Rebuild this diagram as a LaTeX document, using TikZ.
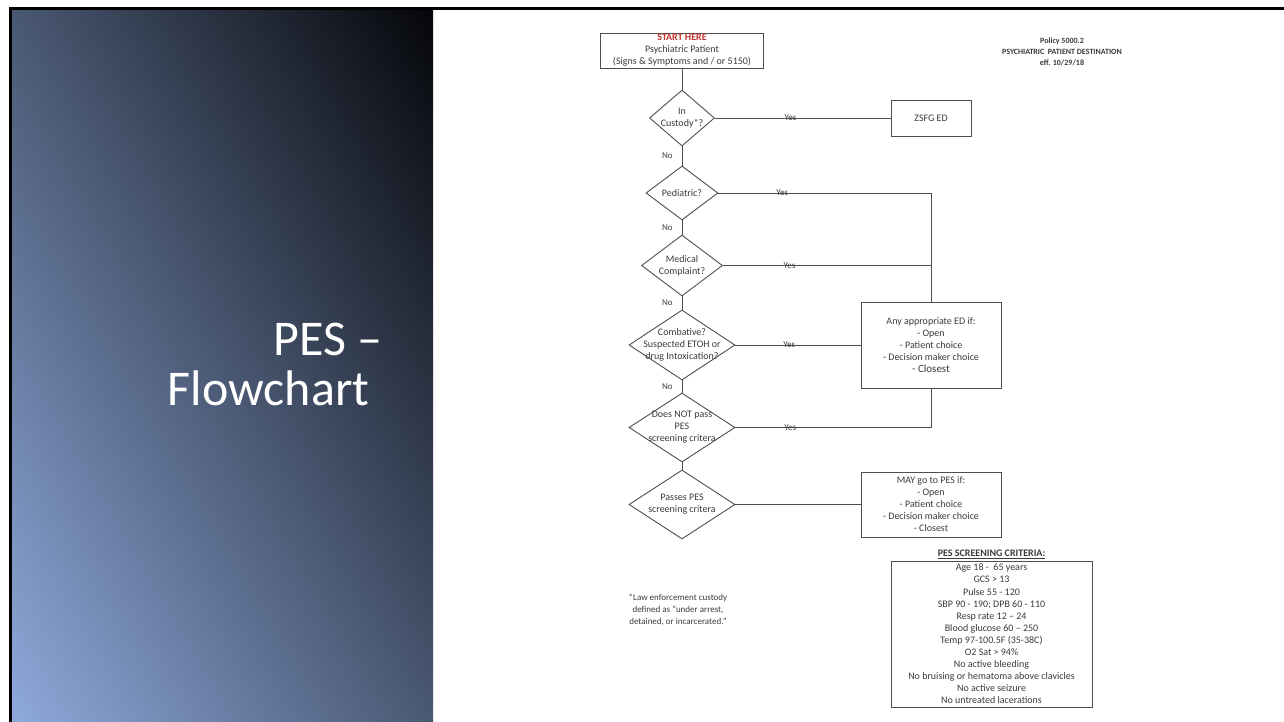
\documentclass[tikz,border=0pt]{standalone}
\usepackage{fontspec}
\setmainfont{Carlito}
\usetikzlibrary{shapes.geometric,positioning}
\definecolor{linegray}{HTML}{4E4E4E}
\definecolor{textgray}{HTML}{3A3A3A}
\definecolor{startred}{HTML}{C0312F}
\definecolor{panellight}{HTML}{8EAADC}
\definecolor{panelmid}{HTML}{4E5C7B}
\definecolor{paneldark}{HTML}{050609}

\begin{document}
\begin{tikzpicture}[x=1pt,y=-1pt,line width=0.9pt,draw=linegray,
  box node/.style={draw=linegray,rectangle,inner sep=0pt,text=textgray,align=center,font=\fontsize{10}{12}\selectfont},
  decision node/.style={draw=linegray,diamond,inner sep=0pt},
  decision text/.style={text=textgray,align=center,inner sep=0pt,font=\fontsize{10}{12}\selectfont},
  yes label/.style={text=textgray,inner sep=0pt,font=\fontsize{9}{10}\selectfont},
  no label/.style={text=textgray,left,inner sep=0pt,xshift=-9pt,font=\fontsize{9}{10}\selectfont},
  small text/.style={text=textgray,align=center,inner sep=0pt}]

  \useasboundingbox (0,0) rectangle (1284,722);

  % left title panel
  \begin{scope}
    \clip (10,8) rectangle (433,722);
    \begin{scope}[transform canvas={rotate around={30.6:(221.5,365)}}]
      \shade[left color=panellight,middle color=panelmid,right color=paneldark] (-142.5,-235) rectangle (585.5,965);
    \end{scope}
  \end{scope}
  \draw[black,line width=3pt] (10.5,722) -- (10.5,8.5) -- (1284,8.5);
  \node[anchor=base east,text=white,font=\fontsize{50}{50}\selectfont] (title1) at (386,355) {PES –};
  \node[anchor=base east,text=white,font=\fontsize{50}{50}\selectfont] (title2) at (373,405) {Flowchart};

  % header
  \node[small text,font=\fontsize{8}{11}\selectfont\bfseries] (policy) at (1062,51.5) {Policy 5000.2\\PSYCHIATRIC\ \ PATIENT DESTINATION\\eff. 10/29/18};

  % boxes
  \node[box node,minimum width=163pt,minimum height=35pt] (start) at (682,50.5) {\textcolor{startred}{\textbf{START HERE}}\\Psychiatric Patient\\(Signs \& Symptoms and / or 5150)};
  \node[box node,minimum width=80pt,minimum height=36pt] (zsfg) at (931,118) {ZSFG ED};
  \node[box node,minimum width=140pt,minimum height=86pt] (edbox) at (931,345) {Any appropriate ED if:\\- Open\\- Patient choice\\- Decision maker choice\\{\fontsize{11}{12}\selectfont - Closest}};
  \node[box node,minimum width=140pt,minimum height=65pt] (maybox) at (931,504.5) {MAY go to PES if:\\- Open\\- Patient choice\\- Decision maker choice\\- Closest};
  \node[box node,minimum width=201pt,minimum height=146pt,font=\fontsize{10}{12.1}\selectfont] (criteria) at (991.5,634) {Age 18 -\ \ 65 years\\GCS > 13\\Pulse 55 - 120\\SBP 90 - 190; DPB 60 - 110\\Resp rate 12 – 24\\Blood glucose 60 – 250\\Temp 97-100.5F (35-38C)\\O2 Sat > 94\%\\No active bleeding\\No bruising or hematoma above clavicles\\No active seizure\\No untreated lacerations};
  \node[small text,above=1.5pt of criteria,font=\fontsize{10}{12}\selectfont\bfseries] (crittitle) {\underline{PES SCREENING CRITERIA:}};

  % decisions
  \node[decision node,minimum width=65pt,minimum height=56pt,label={[decision text]center:In\\Custody*?}] (custody) at (682,118) {};
  \node[decision node,minimum width=72pt,minimum height=54pt,label={[decision text]center:Pediatric?}] (pediatric) at (682,193) {};
  \node[decision node,minimum width=81pt,minimum height=61pt,label={[decision text]center:Medical\\Complaint?}] (medical) at (682,265.5) {};
  \node[decision node,minimum width=106pt,minimum height=70pt,label={[decision text]center:Combative?\\Suspected ETOH or\\drug Intoxication?}] (combative) at (682,345) {};
  \node[decision node,minimum width=106pt,minimum height=69pt,label={[decision text]center:Does NOT pass\\PES\\screening critera}] (notpass) at (682,427.5) {};
  \node[decision node,minimum width=106pt,minimum height=69pt,label={[decision text]center:Passes PES\\screening critera}] (passes) at (682,504.5) {};

  % footnote
  \node[small text,font=\fontsize{9}{12}\selectfont] (footnote) at (678,610) {*Law enforcement custody\\defined as “under arrest,\\detained, or incarcerated.”};

  % connectors
  \draw (start) -- (custody);
  \draw (custody) -- node[yes label,pos=0.43]{Yes} (zsfg);
  \draw (custody) -- node[no label]{No} (pediatric);
  \draw (pediatric.east) -| node[yes label,pos=0.15]{Yes} (edbox.north);
  \draw (pediatric) -- node[no label]{No} (medical);
  \draw (medical.east) -- node[yes label,pos=0.32]{Yes} (medical.east -| edbox.north);
  \draw (medical) -- node[no label]{No} (combative);
  \draw (combative) -- node[yes label,pos=0.43]{Yes} (edbox);
  \draw (combative) -- node[no label]{No} (notpass);
  \draw (notpass.east) -| node[yes label,pos=0.14]{Yes} (edbox.south);
  \draw (notpass) -- (passes);
  \draw (passes) -- (maybox);
\end{tikzpicture}
\end{document}
